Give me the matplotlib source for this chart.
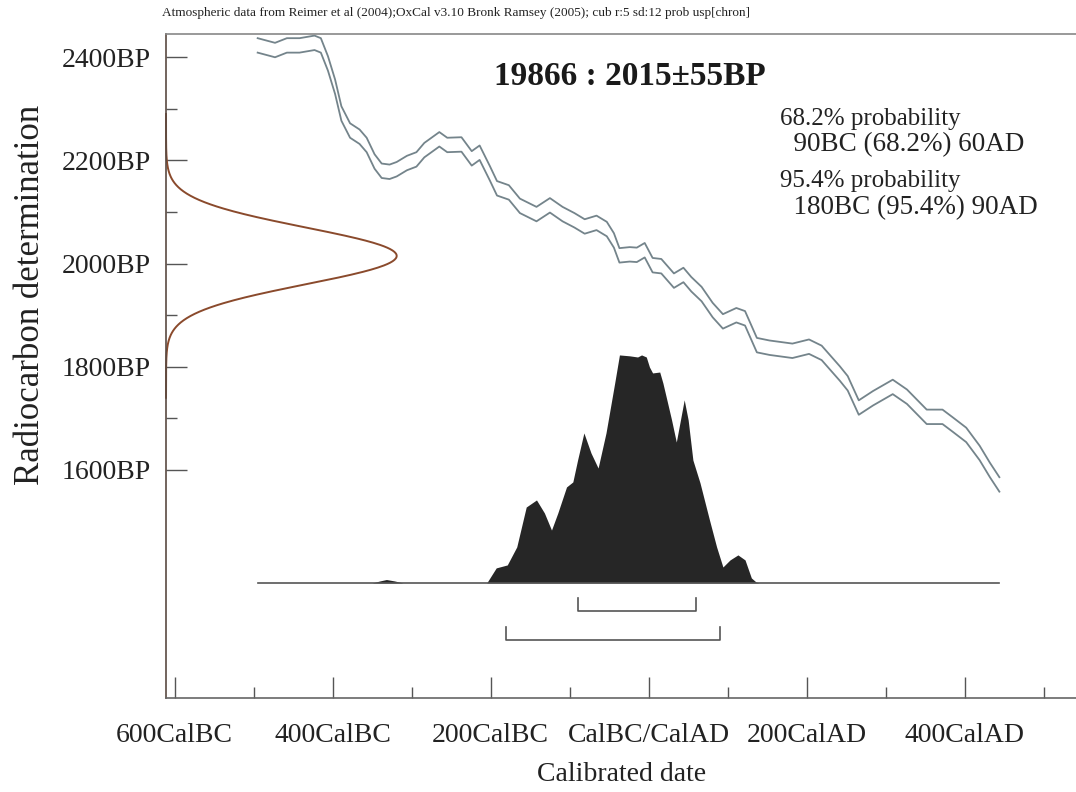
import numpy as np
import matplotlib
matplotlib.use("Agg")
import matplotlib.pyplot as plt
from matplotlib.ticker import FixedLocator

# calibration curve (mean radiocarbon age, BP) against calendar year (negative = BC)
curve_year = [-495, -473, -458, -442, -423, -415, -406, -397, -389, -378, -366,
              -357, -347, -338, -328, -319, -306, -294, -284, -265, -255, -237,
              -224, -214, -201, -192, -177, -163, -142, -125, -109, -94, -81,
              -66, -53, -44, -37, -24, -15, -5, 5, 16, 32, 44, 54, 67, 81, 94,
              111, 122, 137, 153, 182, 203, 219, 242, 252, 266, 284, 309, 327,
              352, 372, 385, 402, 419, 432, 444]
curve_bp = [2423, 2414, 2423, 2423, 2428, 2423, 2388, 2343, 2291, 2258, 2246,
            2230, 2198, 2180, 2178, 2183, 2195, 2202, 2220, 2241, 2230, 2231,
            2204, 2215, 2175, 2146, 2138, 2112, 2096, 2113, 2096, 2084, 2072,
            2079, 2067, 2045, 2016, 2018, 2017, 2026, 1997, 1995, 1967, 1978,
            1960, 1941, 1910, 1888, 1900, 1894, 1842, 1837, 1831, 1839, 1827,
            1787, 1768, 1721, 1739, 1761, 1742, 1703, 1703, 1688, 1668, 1633,
            1600, 1572]
curve_sigma = 14

# measurement
lab_code = "19866"
c14_age = 2015
c14_err = 55

# calibrated probability (relative to maximum)
prob_year = [-495, -350, -340, -332, -322, -311, -210, -205, -193, -179, -167,
             -155, -142, -132, -123, -115, -104, -96, -90, -82, -73, -64, -54,
             -43, -37, -24, -14, -9, -3, 1, 5, 14, 18, 24, 29, 35, 45, 50, 56,
             65, 77, 86, 94, 103, 113, 122, 130, 136, 140, 444]
prob_rel = [0, 0, 0.009, 0.015, 0.009, 0, 0, 0, 0.066, 0.079, 0.158, 0.333,
            0.364, 0.307, 0.232, 0.307, 0.421, 0.443, 0.539, 0.658, 0.570,
            0.504, 0.658, 0.877, 1.0, 0.996, 0.991, 1.0, 0.991, 0.947, 0.921,
            0.925, 0.877, 0.789, 0.715, 0.618, 0.803, 0.715, 0.539, 0.439,
            0.276, 0.158, 0.070, 0.101, 0.123, 0.101, 0.022, 0.004, 0, 0]

range_68 = (-90, 60)
range_95 = (-180, 90)
summary_lines = ["68.2% probability", "  90BC (68.2%) 60AD",
                 "95.4% probability", "  180BC (95.4%) 90AD"]

x_ticks = [-600, -400, -200, 0, 200, 400]
x_labels = ["600CalBC", "400CalBC", "200CalBC", "CalBC/CalAD", "200CalAD", "400CalAD"]
x_minor = [-500, -300, -100, 100, 300, 500]
y_ticks = [1600, 1800, 2000, 2200, 2400]
y_labels = ["1600BP", "1800BP", "2000BP", "2200BP", "2400BP"]
y_minor = [1700, 1900, 2100, 2300]

header = ("Atmospheric data from Reimer et al (2004);OxCal v3.10 Bronk Ramsey (2005); "
          "cub r:5 sd:12 prob usp[chron]")

plt.rcParams["font.family"] = ["Liberation Serif", "DejaVu Serif"]

fig = plt.figure(figsize=(10.76, 7.92), dpi=100)
ax = fig.add_axes([0.1543, 0.1187, 0.8457, 0.8383])
xlim = (-611, 541)
ylim = (1158, 2445)
ax.set_xlim(*xlim)
ax.set_ylim(*ylim)

# calibration curve +/- 1 sigma
cy = np.array(curve_year)
cb = np.array(curve_bp)
line_col = "#74848b"
for sgn in (1, -1):
    ax.plot(cy, cb + sgn * curve_sigma, color=line_col, lw=1.3,
            solid_joinstyle="round")

# radiocarbon measurement along the y axis
bp = np.linspace(c14_age - 5 * c14_err, c14_age + 5 * c14_err, 400)
g = np.exp(-0.5 * ((bp - c14_age) / c14_err) ** 2)
ax.plot(xlim[0] + g * 292, bp, color="#8a4a2c", lw=1.4, clip_on=False)

# calibrated distribution
base = 1381
height = 442
py = np.array(prob_year)
pr = np.array(prob_rel)
ax.fill_between(py, base, base + pr * height, color="#262626", lw=0)
ax.plot([curve_year[0], curve_year[-1]], [base, base], color="#555555", lw=1.2)

# ranges
for (lo, hi), yb in [(range_68, 1326), (range_95, 1270)]:
    ax.plot([lo, lo, hi, hi], [yb + 25, yb, yb, yb + 25], color="#555555", lw=1.2)

# axes styling
ax.spines["right"].set_visible(False)
ax.spines["left"].set_color("#5a4a42")
ax.spines["bottom"].set_color("#666666")
ax.spines["top"].set_color("#888888")
for s in ["left", "bottom", "top"]:
    ax.spines[s].set_linewidth(1.2)

ax.xaxis.set_major_locator(FixedLocator(x_ticks))
ax.xaxis.set_minor_locator(FixedLocator(x_minor))
ax.set_xticklabels(x_labels)
ax.yaxis.set_major_locator(FixedLocator(y_ticks))
ax.yaxis.set_minor_locator(FixedLocator(y_minor))
ax.set_yticklabels(y_labels)
ax.tick_params(axis="both", which="major", direction="in", length=15, width=1,
               color="#555555", labelsize=20, labelcolor="#222222")
ax.tick_params(axis="both", which="minor", direction="in", length=8, width=1,
               color="#555555")
ax.tick_params(axis="y", which="major", pad=11)
ax.tick_params(axis="x", which="major", pad=18)

fig.text(0.578, 0.022, "Calibrated date", ha="center", va="center",
         fontsize=20, color="#222222")
fig.text(0.028, 0.628, "Radiocarbon determination", ha="center", va="center",
         rotation=90, fontsize=25, color="#222222")

fig.text(0.1506, 0.984, header, ha="left", va="center", fontsize=9.5, color="#222222")
fig.text(0.585, 0.903, f"{lab_code} : {c14_age}\u00b1{c14_err}BP", ha="center",
         va="center", fontsize=24, fontweight="bold", color="#1a1a1a")
for txt, yy in zip(summary_lines, [0.850, 0.817, 0.772, 0.738]):
    size = 19.5 if txt.startswith(" ") else 18
    fig.text(0.725, yy, txt, ha="left", va="center", fontsize=size, color="#222222")

fig.savefig("out.png", dpi=100)
